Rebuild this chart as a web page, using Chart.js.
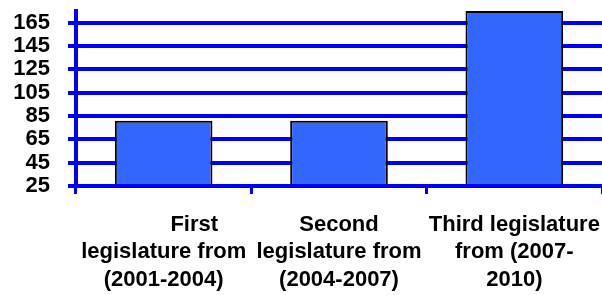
<!DOCTYPE html>
<html>
<head>
<meta charset="utf-8">
<script src="https://cdn.jsdelivr.net/npm/chart.js@4/dist/chart.umd.min.js"></script>
<style>
  html, body { margin: 0; padding: 0; background: #fff; }
  #wrap { width: 602px; height: 295px; }
</style>
</head>
<body>
<div id="wrap"><canvas id="legChart"></canvas></div>
<script>
const categories = [
  ["          First", "legislature from", "(2001-2004)"],
  ["Second", "legislature from", "(2004-2007)"],
  ["Third legislature", "from (2007-", "2010)"]
];
const values = [81, 81, 175];
const yTicks = [25, 45, 65, 85, 105, 125, 145, 165];

const blue = "#0000ff";
const font = { family: "'Liberation Sans', Arial, sans-serif", size: 22, weight: "bold", lineHeight: 1.25 };

const ctx = document.getElementById("legChart").getContext("2d");
new Chart(ctx, {
  type: "bar",
  data: {
    labels: categories,
    datasets: [{
      data: values,
      backgroundColor: "#3366ff",
      borderColor: "#000000",
      borderWidth: 2,
      barPercentage: 0.557,
      categoryPercentage: 1
    }]
  },
  options: {
    responsive: true,
    maintainAspectRatio: false,
    animation: false,
    layout: { padding: { top: 11, right: 0, left: 0, bottom: 0 } },
    plugins: {
      legend: { display: false },
      tooltip: { enabled: false }
    },
    scales: {
      x: {
        grid: { drawOnChartArea: false, color: blue, lineWidth: 3, tickLength: 8 },
        border: { color: blue, width: 4, z: 1 },
        ticks: { color: "#000", font: font, padding: 17, maxRotation: 0, autoSkip: false },
        afterFit: (scale) => {
          scale.height = 109;
          scale.paddingLeft = 0;
          scale.paddingRight = 0;
        }
      },
      y: {
        min: 25,
        max: 175,
        grid: { color: blue, lineWidth: 4, tickLength: 8 },
        border: { color: blue, width: 4, z: 1 },
        ticks: { color: "#000", font: font, padding: 18, autoSkip: false },
        afterBuildTicks: (scale) => { scale.ticks = yTicks.map(v => ({ value: v })); },
        afterFit: (scale) => {
          scale.width = 76;
          scale.paddingTop = 0;
          scale.paddingBottom = 0;
        }
      }
    }
  }
});
</script>
</body>
</html>
